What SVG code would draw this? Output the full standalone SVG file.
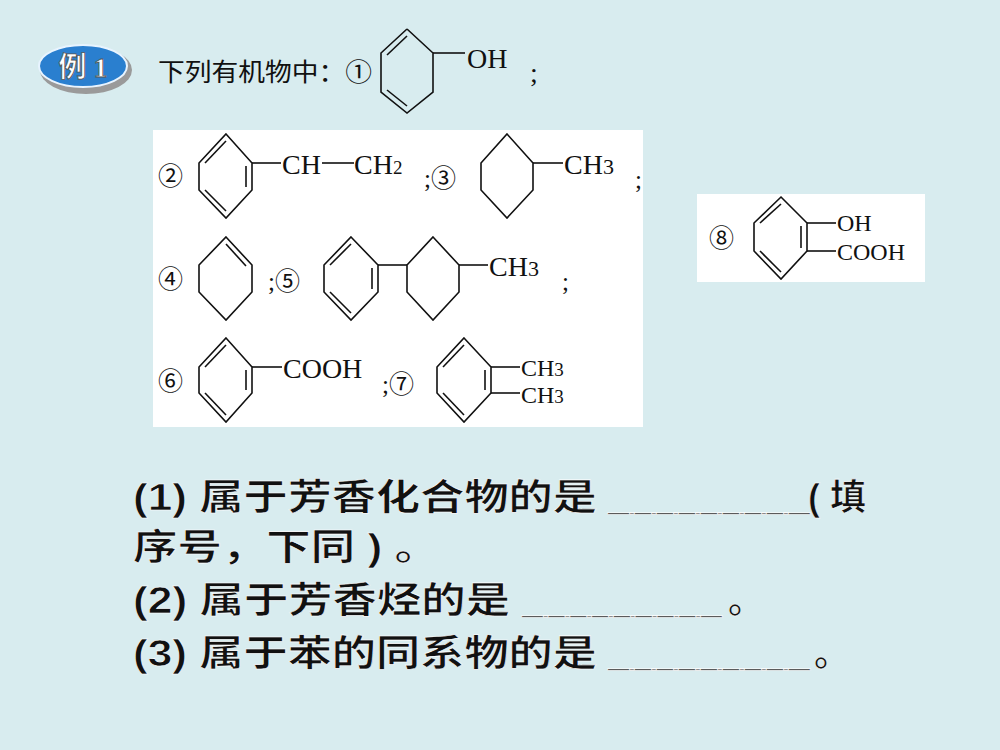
<svg xmlns="http://www.w3.org/2000/svg" width="1000" height="750" viewBox="0 0 1000 750">
<style>
.b{fill:none;stroke:#111;stroke-width:1.6}
.s{font-family:"Liberation Serif","Noto Sans CJK SC",serif;fill:#111;font-size:28px}
.t{font-family:"Liberation Serif","Noto Sans CJK SC",serif;fill:#111;font-size:24px}
.c{font-family:"Liberation Serif","Noto Sans CJK SC",serif;fill:#111;font-size:25px}
.q{font-family:"Liberation Sans","Noto Sans CJK SC",sans-serif;font-weight:bold;font-size:36px;fill:#111;stroke:#fff;stroke-width:0.6}
</style>
<rect width="1000" height="750" fill="#d8ecef"/>
<g id="badge">
<ellipse cx="86" cy="70" rx="46" ry="24" fill="#9a9a9a"/>
<ellipse cx="83" cy="66" rx="44" ry="21" fill="#2a7fcf" stroke="#e8f4ff" stroke-width="2"/>
<text x="83" y="77" text-anchor="middle" font-family="Liberation Serif,Noto Sans CJK SC,serif" font-weight="bold" font-size="28" fill="#fff" stroke="#555" stroke-width="0.8">例 1</text>
</g>
<g id="intro">
<text class="c" x="158" y="81" textLength="214" lengthAdjust="spacingAndGlyphs">下列有机物中：①</text>
<polyline class="b" points="407,29 433,53 433,92 407,113 381,92 381,53 407,29"/>
<line class="b" x1="387" y1="55" x2="407" y2="36"/>
<line class="b" x1="387" y1="90" x2="407" y2="106"/>
<line class="b" x1="433" y1="53" x2="465" y2="53"/>
<text class="s" x="467" y="68">OH</text>
<text class="s" x="530" y="82">;</text>
</g>
<rect x="153" y="130" width="490" height="297" fill="#fff"/>
<g id="m2">
<text class="c" x="158" y="185">②</text>
<polygon class="b" points="226,134 252,163 252,190 226,218 199,190 199,163"/>
<line class="b" x1="205" y1="163" x2="226" y2="141"/>
<line class="b" x1="246" y1="166" x2="246" y2="187"/>
<line class="b" x1="205" y1="190" x2="226" y2="211"/>
<line class="b" x1="252" y1="163" x2="281" y2="163"/>
<text class="s" x="282" y="174">CH</text>
<line class="b" x1="322" y1="163" x2="354" y2="163"/>
<text class="s" x="354" y="174">CH<tspan font-size="19">2</tspan></text>
<text class="c" x="424" y="187">;③</text>
</g>
<g id="m3">
<polygon class="b" points="507,134 533,163 533,190 507,218 481,190 481,163"/>
<line class="b" x1="533" y1="163" x2="563" y2="163"/>
<text class="s" x="564" y="174">CH<tspan font-size="22">3</tspan></text>
<text class="c" x="635" y="188">;</text>
</g>
<g id="m4">
<text class="c" x="158" y="288">④</text>
<polygon class="b" points="226,237 252,265 252,292 226,320 199,292 199,265"/>
<line class="b" x1="226" y1="244" x2="246" y2="266"/>
<text class="c" x="268" y="290">;⑤</text>
</g>
<g id="m5">
<polygon class="b" points="351,237 378,265 378,292 351,320 324,292 324,265"/>
<line class="b" x1="330" y1="265" x2="351" y2="244"/>
<line class="b" x1="372" y1="268" x2="372" y2="289"/>
<line class="b" x1="330" y1="292" x2="351" y2="313"/>
<line class="b" x1="378" y1="265" x2="407" y2="265"/>
<polygon class="b" points="433,237 459,265 459,292 433,320 407,292 407,265"/>
<line class="b" x1="459" y1="265" x2="488" y2="265"/>
<text class="s" x="489" y="276">CH<tspan font-size="22">3</tspan></text>
<text class="c" x="562" y="290">;</text>
</g>
<g id="m6">
<text class="c" x="158" y="390">⑥</text>
<polygon class="b" points="226,338 252,367 252,393 226,422 199,393 199,367"/>
<line class="b" x1="205" y1="367" x2="226" y2="345"/>
<line class="b" x1="246" y1="370" x2="246" y2="390"/>
<line class="b" x1="205" y1="393" x2="226" y2="415"/>
<line class="b" x1="252" y1="367" x2="282" y2="367"/>
<text class="s" x="283" y="378">COOH</text>
<text class="c" x="382" y="393">;⑦</text>
</g>
<g id="m7">
<polygon class="b" points="464,338 491,367 491,393 464,422 437,393 437,367"/>
<line class="b" x1="443" y1="367" x2="464" y2="345"/>
<line class="b" x1="485" y1="370" x2="485" y2="390"/>
<line class="b" x1="443" y1="393" x2="464" y2="415"/>
<line class="b" x1="491" y1="367" x2="520" y2="367"/>
<line class="b" x1="491" y1="393" x2="520" y2="393"/>
<text class="t" x="521" y="376">CH<tspan font-size="19">3</tspan></text>
<text class="t" x="521" y="403">CH<tspan font-size="19">3</tspan></text>
</g>
<g id="m8">
<rect x="697" y="194" width="228" height="88" fill="#fff"/>
<text class="c" x="709" y="247">⑧</text>
<polygon class="b" points="781,197 807,223 807,251 781,279 754,251 754,223"/>
<line class="b" x1="760" y1="223" x2="781" y2="204"/>
<line class="b" x1="801" y1="226" x2="801" y2="248"/>
<line class="b" x1="760" y1="251" x2="781" y2="272"/>
<line class="b" x1="807" y1="223" x2="836" y2="223"/>
<line class="b" x1="807" y1="251" x2="836" y2="251"/>
<text class="t" x="837" y="231">OH</text>
<text class="t" x="837" y="260">COOH</text>
</g>
<g id="questions">
<text class="q" x="133" y="510" textLength="464" lengthAdjust="spacingAndGlyphs">(1) 属于芳香化合物的是</text>
<text class="q" x="608" y="510" textLength="198" lengthAdjust="spacingAndGlyphs" letter-spacing="-3">_________</text>
<text class="q" x="808" y="510">( 填</text>
<text class="q" x="133" y="560" textLength="306" lengthAdjust="spacingAndGlyphs">序号，下同 ) 。</text>
<text class="q" x="133" y="613" textLength="377" lengthAdjust="spacingAndGlyphs">(2) 属于芳香烃的是</text>
<text class="q" x="522" y="613" textLength="196" lengthAdjust="spacingAndGlyphs" letter-spacing="-3">_________</text>
<text class="q" x="728" y="613">。</text>
<text class="q" x="133" y="666" textLength="464" lengthAdjust="spacingAndGlyphs">(3) 属于苯的同系物的是</text>
<text class="q" x="608" y="666" textLength="198" lengthAdjust="spacingAndGlyphs" letter-spacing="-3">_________</text>
<text class="q" x="814" y="666">。</text>
</g>
</svg>
